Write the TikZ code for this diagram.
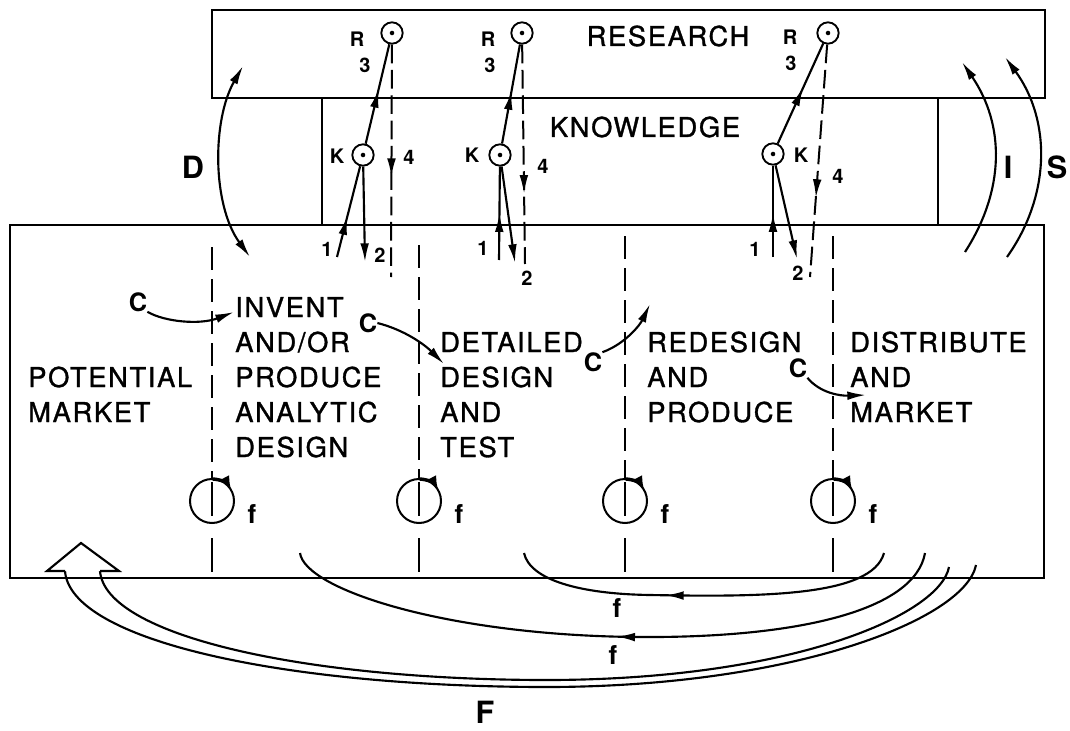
\documentclass[tikz,border=0pt]{standalone}
\usepackage{fontspec}
\setmainfont{TeX Gyre Heros}
\newfontfamily\stagefont[LetterSpace=6,FakeBold=1.2]{TeX Gyre Heros}
\usetikzlibrary{arrows.meta,decorations.markings}
\begin{document}
\begin{tikzpicture}[x=0.75pt,y=-0.75pt,
  >={Latex[length=14pt,width=6.5pt]},
  line/.style={line width=1.6pt},
  boxline/.style={line width=1.8pt},
  midarrow/.style={postaction={decorate},decoration={markings,mark=at position #1 with {\arrow{>}}}},
  smallcirc/.style={circle,draw,line width=1.4pt,minimum size=16pt,inner sep=0pt,
    path picture={\fill (path picture bounding box.center) circle (1.7pt);}},
  fcirc/.style={circle,draw,line width=1.5pt,minimum size=33pt,inner sep=0pt},
  stage/.style={anchor=base west,align=left,inner sep=0pt,font=\stagefont\fontsize{20.5}{26.25}\selectfont},
  lbl/.style={inner sep=0pt,font=\stagefont\fontsize{20.5}{24}\selectfont},
  small/.style={inner sep=0pt,font=\bfseries\fontsize{15}{17}\selectfont},
  clbl/.style={inner sep=0pt,font=\bfseries\fontsize{19}{21}\selectfont},
  biglbl/.style={inner sep=0pt,font=\bfseries\fontsize{23}{25}\selectfont},
  flbl/.style={inner sep=0pt,font=\bfseries\fontsize{19.5}{21}\selectfont},
  divider/.style={line width=1.6pt,dash pattern=on 17pt off 7pt},
  kdash/.style={line width=1.5pt,dash pattern=on 14pt off 5pt}]
\useasboundingbox (0,0) rectangle (1070,731);
\fill[white] (0,0) rectangle (1070,731);

% boxes
\draw[boxline] (212,10) rectangle (1045,98);
\draw[boxline] (10,225) rectangle (1044,578);
\draw[boxline] (322,98) -- (322,225);
\draw[boxline] (938,98) -- (938,225);
\node[lbl] (res) at (668,36) {RESEARCH};
\node[lbl] (kno) at (645,127) {KNOWLEDGE};

% stage texts (anchored at the baseline of the last line)
\node[stage] (pm) at (28,422) {POTENTIAL\\MARKET};
\node[stage] (inv) at (235,457) {INVENT\\AND/OR\\PRODUCE\\ANALYTIC\\DESIGN};
\node[stage] (det) at (440,457) {DETAILED\\DESIGN\\AND\\TEST};
\node[stage] (red) at (647,422) {REDESIGN\\AND\\PRODUCE};
\node[stage] (dis) at (850,422) {DISTRIBUTE\\AND\\MARKET};

% dividers with f circles
\foreach \i/\x/\s in {1/212/247,2/419/245,3/625/236,4/833/236}{
  \node[fcirc] (f\i) at (\x,501) {};
  \coordinate (dt\i) at (\x,\s);
  \coordinate (di\i) at (\x,482);
  \coordinate (dj\i) at (\x,516);
  \coordinate (db\i) at (\x,538);
  \coordinate (de\i) at (\x,572);
  \draw[divider] (dt\i) -- (f\i.north);
  \draw[line] (di\i) -- (dj\i);
  \draw[line] (db\i) -- (de\i);
  \draw[line width=2.6pt,-{Latex[length=11pt,width=8pt]}] ([shift={(-88:22)}]f\i.center) arc[start angle=-88,end angle=-28,radius=22];
  \node[flbl] (fl\i) at (\x+40,514) {f};
}

% group 1
\node[smallcirc] (R1) at (392,33) {};
\node[smallcirc] (K1) at (363,155) {};
\node[small] (lR1) at (357,39) {R};
\node[small] (l31) at (365,65) {3};
\node[small] (lK1) at (337,156) {K};
\node[small] (l41) at (409,157) {4};
\node[small] (l11) at (327,249) {1};
\node[small] (l21) at (380,255) {2};
\coordinate (a1) at (337,257);
\coordinate (b1) at (365,262);
\coordinate (d1) at (391,277);
\draw[line,midarrow=0.55] (K1) -- (R1);
\draw[line,midarrow=0.45] (a1) -- (K1);
\draw[line,->] (K1) -- (b1);
\draw[kdash,midarrow=0.57] (R1) -- (d1);

% group 2
\node[smallcirc] (R2) at (522,33) {};
\node[smallcirc] (K2) at (500,155) {};
\node[small] (lR2) at (488,39) {R};
\node[small] (l32) at (490,65) {3};
\node[small] (lK2) at (472,155) {K};
\node[small] (l42) at (543,166) {4};
\node[small] (l12) at (483,248) {1};
\node[small] (l22) at (527,278) {2};
\coordinate (a2) at (499,260);
\coordinate (b2) at (515,263);
\coordinate (d2) at (525,264);
\draw[line,midarrow=0.53] (K2) -- (R2);
\draw[line,midarrow=0.5] (a2) -- (K2);
\draw[line,->] (K2) -- (b2);
\draw[kdash,midarrow=0.68] (R2) -- (d2);

% group 3
\node[smallcirc] (R3) at (828,33) {};
\node[smallcirc] (K3) at (773,154) {};
\node[small] (lR3) at (790,37) {R};
\node[small] (l33) at (791,63) {3};
\node[small] (lK3) at (801,155) {K};
\node[small] (l43) at (838,176) {4};
\node[small] (l13) at (755,249) {1};
\node[small] (l23) at (798,273) {2};
\coordinate (a3) at (773,257);
\coordinate (b3) at (797,259);
\coordinate (d3) at (810,277);
\draw[line,midarrow=0.56] (K3) -- (R3);
\draw[line,midarrow=0.48] (a3) -- (K3);
\draw[line,->] (K3) -- (b3);
\draw[kdash,midarrow=0.66] (R3) -- (d3);

% D, I, S arcs
\coordinate (Dt) at (243,66);
\coordinate (Db) at (250,257);
\draw[line,<->] (Dt) .. controls (212,120) and (212,205) .. (Db);
\node[biglbl] (Dl) at (193,167) {D};
\coordinate (Ib) at (965,252);
\coordinate (It) at (962,62);
\draw[line,->] (Ib) .. controls (1005,190) and (1005,125) .. (It);
\node[biglbl] (Il) at (1008,167) {I};
\coordinate (Sb) at (1007,257);
\coordinate (St) at (1005,57);
\draw[line,->] (Sb) .. controls (1051,195) and (1051,120) .. (St);
\node[biglbl] (Sl) at (1057,167) {S};

% C arrows
\node[clbl] (C1) at (138,302) {C};
\node[clbl] (C2) at (368,323) {C};
\node[clbl] (C3) at (593,362) {C};
\node[clbl] (C4) at (798,368) {C};
\coordinate (c1e) at (234,312);
\coordinate (c2e) at (444,364);
\coordinate (c3e) at (650,304);
\coordinate (c4e) at (866,395);
\draw[line,->] (C1.south east) .. controls (165,322) and (200,325) .. (c1e);
\draw[line,->] (C2.east) .. controls (405,330) and (425,345) .. (c2e);
\draw[line,->] (C3.north east) .. controls (625,344) and (640,325) .. (c3e);
\draw[line,->] (C4.south east) .. controls (820,393) and (840,396) .. (c4e);

% feedback arcs
\coordinate (g1r) at (884,553);
\coordinate (g1l) at (524,553);
\draw[line,midarrow=0.6] (g1r) .. controls (872,597) and (760,597) .. (650,595) .. controls (580,594) and (530,580) .. (g1l);
\node[flbl] (fb1) at (617,608) {f};
\coordinate (g2r) at (925,553);
\coordinate (g2l) at (300,553);
\draw[line,midarrow=0.5] (g2r) .. controls (915,610) and (800,638) .. (640,637) .. controls (450,636) and (305,590) .. (g2l);
\node[flbl] (fb2) at (613,655) {f};
\coordinate (h1r) at (949,567);
\coordinate (h1l) at (100,571);
\draw[line] (h1r) .. controls (940,615) and (790,681) .. (540,680) .. controls (300,679) and (105,635) .. (h1l);
\coordinate (h2r) at (976,565);
\coordinate (h2l) at (65,571);
\draw[line] (h2r) .. controls (965,620) and (790,688) .. (540,687) .. controls (280,686) and (70,640) .. (h2l);
\draw[line,fill=white] (h2l) -- (47,571) -- (81,543) -- (119,571) -- (h1l);
\node[biglbl] (Fl) at (485,712) {F};
\end{tikzpicture}
\end{document}
